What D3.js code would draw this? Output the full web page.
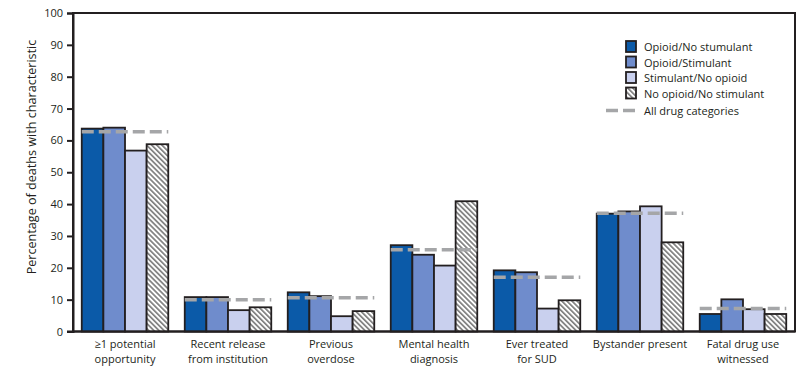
<!DOCTYPE html>
<html>
<head>
<meta charset="utf-8">
<script src="https://cdn.jsdelivr.net/npm/d3@7"></script>
<style>
  body { margin: 0; background: #fff; }
  text { font-family: "Open Sans", "Noto Sans", sans-serif; fill: #231f20; }
</style>
</head>
<body>
<div id="root"></div>
<script>
// data
var categories = [
  ["\u22651 potential", "opportunity"],
  ["Recent release", "from institution"],
  ["Previous", "overdose"],
  ["Mental health", "diagnosis"],
  ["Ever treated", "for SUD"],
  ["Bystander present"],
  ["Fatal drug use", "witnessed"]
]
var seriesNames = ["Opioid/No stumulant", "Opioid/Stimulant", "Stimulant/No opioid", "No opioid/No stimulant"]
var opioidNoStim  = [63.7, 10.8, 12.3, 27.1, 19.2, 37.0, 5.5]
var opioidStim    = [64.0, 10.8, 11.1, 24.1, 18.6, 37.7, 10.1]
var stimNoOpioid  = [56.8,  6.7,  4.8, 20.7,  7.2, 39.3,  7.0]
var noOpioidNoStim= [58.8,  7.6,  6.4, 40.9,  9.8, 28.0,  5.5]
var allDrugs      = [62.7, 10.0, 10.6, 25.7, 17.0, 37.1,  7.2]
var yTicks = [0, 10, 20, 30, 40, 50, 60, 70, 80, 90, 100]

var series = [opioidNoStim, opioidStim, stimNoOpioid, noOpioidNoStim]
var fills = ["#0b5aa8", "#6f8ccc", "#c9d0ee", "url(#hatch)"]

var width = 807, height = 377
var margin = ({ top: 13, right: 12, bottom: 45, left: 73 })

var svg = d3.select("#root").append("svg")
  .attr("width", width)
  .attr("height", height)

// hatch pattern (falling diagonals)
var pat = svg.append("defs").append("pattern")
  .attr("id", "hatch")
  .attr("patternUnits", "userSpaceOnUse")
  .attr("width", 3.6).attr("height", 3.6)
  .attr("patternTransform", "rotate(-45)")
pat.append("rect").attr("width", 3.6).attr("height", 3.6).attr("fill", "#fff")
pat.append("rect").attr("width", 1.7).attr("height", 3.6).attr("fill", "#808080")

var x = d3.scaleBand()
  .domain(d3.range(categories.length))
  .range([margin.left, width - margin.right])
  .paddingInner(0.16)
  .paddingOuter(0.085)

var x1 = d3.scaleBand()
  .domain(d3.range(series.length))
  .range([0, x.bandwidth()])

var y = d3.scaleLinear()
  .domain([0, 100])
  .range([height - margin.bottom - 0.5, margin.top])

// frame
svg.append("rect")
  .attr("x", margin.left).attr("y", margin.top)
  .attr("width", width - margin.right - margin.left)
  .attr("height", y(0) - margin.top)
  .attr("fill", "none").attr("stroke", "#231f20").attr("stroke-width", 2)

// y axis
var yAxis = svg.append("g")
  .attr("transform", "translate(" + margin.left + ",0)")
  .call(d3.axisLeft(y).tickValues(yTicks).tickSize(6).tickPadding(4))
yAxis.select(".domain").attr("stroke", "#231f20").attr("stroke-width", 2)
yAxis.selectAll(".tick line").attr("stroke", "#231f20").attr("stroke-width", 2)
yAxis.selectAll("text").style("font-size", "11px").attr("fill", "#231f20")

svg.append("text")
  .attr("transform", "translate(36,157) rotate(-90)")
  .attr("text-anchor", "middle")
  .style("font-size", "12.6px")
  .text("Percentage of deaths with characteristic")

// bars
var groups = svg.selectAll(".grp")
  .data(categories)
  .enter().append("g")
  .attr("class", "grp")
  .attr("transform", function(d, i) { return "translate(" + x(i) + ",0)" })

series.forEach(function(s, si) {
  groups.append("rect")
    .attr("x", x1(si))
    .attr("y", function(d, i) { return y(s[i]) })
    .attr("width", x1.bandwidth())
    .attr("height", function(d, i) { return y(0) - y(s[i]) })
    .attr("fill", fills[si])
    .attr("stroke", "#231f20")
    .attr("stroke-width", 1.8)
})

// all drug categories dashed line
groups.append("line")
  .attr("x1", 0)
  .attr("x2", x.bandwidth())
  .attr("y1", function(d, i) { return y(allDrugs[i]) })
  .attr("y2", function(d, i) { return y(allDrugs[i]) })
  .attr("stroke", "#a5a6a8")
  .attr("stroke-width", 3.5)
  .attr("stroke-dasharray", "12,5")

// bottom axis line on top
svg.append("line")
  .attr("x1", margin.left - 6).attr("x2", width - margin.right)
  .attr("y1", y(0)).attr("y2", y(0))
  .attr("stroke", "#231f20").attr("stroke-width", 2)

// x labels
groups.each(function(d) {
  var t = d3.select(this).append("text")
    .attr("text-anchor", "middle")
    .style("font-size", "11px")
  d.forEach(function(line, li) {
    t.append("tspan")
      .attr("x", x.bandwidth() / 2)
      .attr("y", 348 + li * 14.5)
      .text(line)
  })
})

// legend
var legend = svg.append("g").attr("transform", "translate(626,41)")
seriesNames.forEach(function(name, i) {
  var row = legend.append("g").attr("transform", "translate(0," + (i * 15.5) + ")")
  row.append("rect")
    .attr("x", 0).attr("y", 0).attr("width", 10).attr("height", 11)
    .attr("fill", fills[i]).attr("stroke", "#231f20").attr("stroke-width", 1.8)
  row.append("text").attr("x", 18).attr("y", 10)
    .style("font-size", "11px").text(name)
})
var lrow = legend.append("g").attr("transform", "translate(0," + (4 * 15.5) + ")")
lrow.append("line")
  .attr("x1", -20).attr("x2", 11).attr("y1", 7.5).attr("y2", 7.5)
  .attr("stroke", "#a5a6a8").attr("stroke-width", 3.5)
  .attr("stroke-dasharray", "12,5")
lrow.append("text").attr("x", 18).attr("y", 11.5)
  .style("font-size", "11px").text("All drug categories")
</script>
</body>
</html>
